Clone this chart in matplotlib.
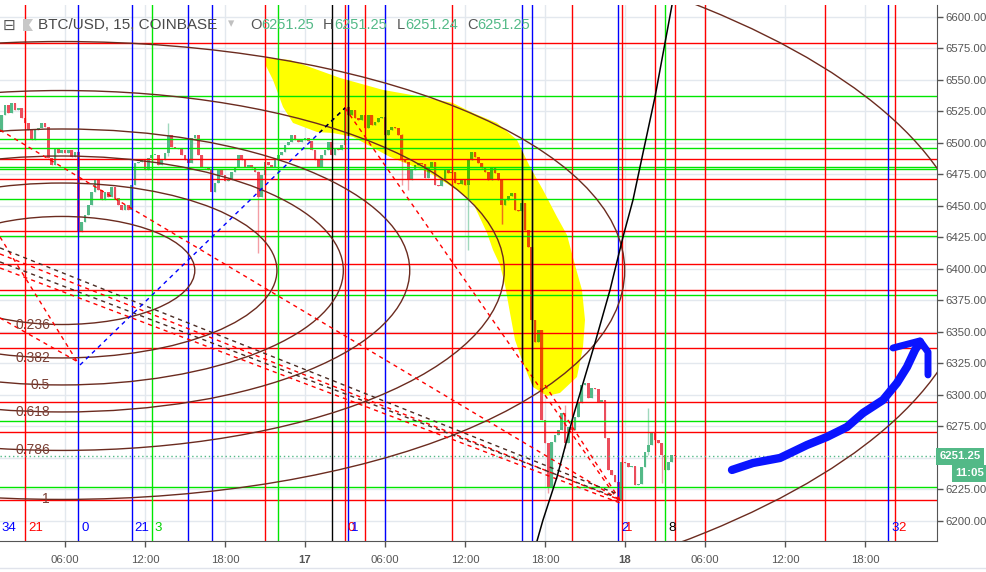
import numpy as np
import matplotlib.pyplot as plt
import matplotlib.transforms as mtransforms
from matplotlib.patches import Polygon, Ellipse
from matplotlib.lines import Line2D

plt.rcParams['font.family'] = ['Liberation Sans', 'DejaVu Sans']

# farben
c_up = '#53b987'
c_dn = '#eb4d5c'
c_up_y = '#53b900'     # unter dem gelben marker (multiply)
c_dn_y = '#eb4d00'
brown = '#6b2b1f'
red = '#ff0000'
green = '#00e600'
blue = '#0000ff'

# 15-min kerzen, zeit in stunden ab 16.09. 00:00
bar_k0 = 5
open0 = 6508.7
closes = [
    6522.2, 6530.2, 6523.8, 6531.7, 6526.2, 6527.8, 6519.9, 6515.9, 6510.3, 6502.4,
    6510.3, 6512.0, 6515.9, 6512.7, 6488.1, 6482.5, 6496.0, 6492.1, 6494.4, 6492.1,
    6494.4, 6488.9, 6492.9, 6429.4, 6437.3, 6442.9, 6450.8, 6461.1, 6470.6, 6462.7,
    6454.8, 6461.1, 6457.1, 6465.1, 6456.4, 6450.8, 6446.8, 6450.8, 6446.8, 6466.7,
    6484.1, 6484.9, 6486.5, 6478.6, 6488.1, 6490.5, 6490.5, 6482.5, 6486.5, 6492.1,
    6506.3, 6496.8, 6496.0, 6495.5, 6490.5, 6486.5, 6484.1, 6504.0, 6506.3, 6490.5,
    6481.0, 6480.2, 6478.6, 6461.1, 6468.3, 6478.6, 6474.6, 6469.9, 6470.6, 6477.0,
    6481.0, 6490.5, 6486.5, 6481.0, 6482.5, 6480.2, 6477.0, 6457.1, 6474.6, 6484.9,
    6482.5, 6481.0, 6486.5, 6490.5, 6492.9, 6498.4, 6500.8, 6506.3, 6502.4, 6500.8,
    6502.4, 6504.0, 6501.6, 6494.4, 6486.5, 6481.0, 6490.5, 6494.4, 6500.8, 6490.5,
    6496.0, 6494.4, 6498.4, 6528.6, 6522.2, 6526.2, 6519.9, 6518.3, 6522.2, 6512.0,
    6522.2, 6514.3, 6516.7, 6519.9, 6520.7, 6506.3, 6510.3, 6512.7, 6512.0, 6506.3,
    6486.5, 6484.9, 6470.6, 6478.6, 6482.5, 6484.1, 6483.5, 6472.2, 6481.0, 6484.9,
    6466.7, 6466.2, 6470.6, 6478.6, 6476.2, 6476.8, 6468.3, 6467.8, 6470.6, 6466.7,
    6486.5, 6492.9, 6488.9, 6484.1, 6480.2, 6477.0, 6470.6, 6481.0, 6476.2, 6470.6,
    6450.8, 6454.8, 6457.9, 6460.3, 6446.8, 6446.0, 6452.4, 6431.0, 6417.5, 6359.5,
    6342.0, 6351.6, 6280.2, 6261.9, 6226.2, 6262.7, 6268.3, 6272.2, 6285.7, 6261.9,
    6274.6, 6272.2, 6282.5, 6293.7, 6307.9, 6309.5, 6297.6, 6305.5, 6304.8, 6294.4,
    6296.0, 6265.9, 6240.5, 6236.5, 6230.9, 6216.7, 6246.8, 6246.3, 6242.9, 6243.4,
    6228.6, 6229.2, 6242.9, 6254.8, 6260.3, 6269.8, 6264.3, 6261.9, 6252.4, 6240.5,
    6246.8, 6252.4, 6251.25]
# auffaellige dochte: kerzen-nr, hoch, tief
wick_k = [28, 55, 82, 125, 127, 145, 155, 169, 174, 190, 199, 203]
wick_hi = [6494, 6516, 6478, 6507, 6485, 6487, 6471, 6262, 6292, 6231, 6290, 6262]
wick_lo = [6427, 6490, 6412.7, 6466.7, 6462.7, 6415, 6436, 6222, 6258, 6209, 6252, 6230]

last_price = 6251.25

# horizontale linien
hl_red = [6579.4, 6487.3, 6471.4, 6430.2, 6404.0, 6383.3, 6349.2, 6337.3, 6294.4, 6270.6, 6216.7]
hl_green = [6537.3, 6503.2, 6496.0, 6481.0, 6479.4, 6455.6, 6426.2, 6379.4, 6279.4, 6227.0]

# vertikale linien (fib time zones)
vl_h = [3.0, 7.0, 11.0, 12.5, 15.25, 17.0, 21.0, 22.0, 26.0, 27.0, 27.25, 28.5, 30.0,
        35.0, 40.25, 41.0, 44.0, 47.5, 47.75, 50.25, 51.0, 51.75, 54.0, 63.0, 67.75, 68.25]
vl_c = ['r', 'b', 'b', 'g', 'b', 'b', 'r', 'g', 'k', 'r', 'b', 'r', 'b',
        'r', 'b', 'b', 'r', 'b', 'r', 'r', 'g', 'r', 'r', 'r', 'b', 'r']
ft_labels = ['34', '21', '0', '21', '3', '0', '1', '2', '1', '8', '3', '2']
ft_h = [1.27, 3.22, 7.22, 11.22, 12.72, 27.22, 27.47, 47.72, 47.97, 51.22, 67.97, 68.47]
ft_c = ['b', 'r', 'b', 'b', 'g', 'r', 'b', 'b', 'r', 'k', 'b', 'r']

# fib circles
fc_center = (5.775, 6398.8)
fc_a = 42.2      # stunden
fc_b = 181.7     # preis
fc_levels = [0.236, 0.382, 0.5, 0.618, 0.786, 1.0, 1.618]
fc_labels = ['0.236', '0.382', '0.5', '0.618', '0.786', '1', '']

# gestrichelte linien: h0, p0, h1, p1, farbe
dashed = [
    (1.125, 6510.3, 47.625, 6216.7, red),
    (27.0, 6527.8, 47.625, 6214.3, red),
    (42.0, 6307.9, 47.625, 6216.7, red),
    (1.125, 6425.4, 6.975, 6325.4, red),
    (1.125, 6361.1, 6.975, 6326.2, red),
    (1.125, 6416.7, 47.25, 6222.1, '#4a2a22'),
    (1.125, 6411.9, 47.625, 6216.7, red),
    (1.125, 6405.6, 47.25, 6219.0, '#4a2a22'),
    (1.125, 6400.8, 47.625, 6214.3, red),
]
fib_line = (7.125, 6323.8, 27.0, 6527.8)

# schwarze kurve
bc_h = [41.4, 41.85, 42.9, 44.1, 45.75, 46.875, 47.85, 48.6, 49.35, 50.25, 51.0, 51.525]
bc_p = [6184.1, 6200.8, 6234.9, 6282.5, 6341.3, 6383.3, 6425.4, 6454.8, 6492.1, 6536.5, 6579.4, 6609.5]

# gelber marker
yel_h = [21.0, 22.875, 24.975, 26.625, 29.85, 32.85, 35.1, 36.6, 38.4, 39.9, 40.875, 41.85,
         42.9, 43.65, 44.25, 44.775, 45.0, 44.85, 44.4, 43.125, 42.15, 41.1, 40.35, 39.75,
         39.375, 39.0, 38.625, 38.1, 37.65, 36.6, 35.4, 33.375, 30.375, 27.6, 26.1, 24.9,
         23.1, 22.35, 21.6, 21.075]
yel_p = [6567.5, 6565.9, 6557.9, 6551.6, 6542.1, 6536.5, 6531.7, 6523.8, 6515.9, 6502.4,
         6481.0, 6462.7, 6441.3, 6427.0, 6403.2, 6383.3, 6359.5, 6338.1, 6314.3, 6301.6,
         6299.2, 6306.3, 6325.4, 6343.7, 6365.1, 6387.3, 6403.2, 6415.1, 6428.6, 6452.4,
         6462.7, 6476.2, 6488.9, 6504.8, 6507.9, 6508.7, 6515.9, 6528.6, 6550.0, 6561.1]

# blauer pfeil (freihand)
arr_h = [56.025, 57.6, 59.625, 61.65, 63.15, 64.65, 65.85, 67.35, 68.4, 69.15, 69.75, 70.125]
arr_p = [6240.5, 6246.0, 6250.0, 6260.3, 6266.7, 6274.6, 6285.7, 6296.0, 6309.5, 6322.2, 6335.7, 6342.1]
head_h = [68.1, 70.125, 70.725, 70.725]
head_p = [6337.3, 6342.9, 6334.1, 6315.9]

xt = [6, 12, 18, 24, 30, 36, 42, 48, 54, 60, 66]
xt_lab = ['06:00', '12:00', '18:00', '17', '06:00', '12:00', '18:00', '18', '06:00', '12:00', '18:00']

cmap = {'r': red, 'g': green, 'b': blue, 'k': 'black'}

#%%
fig = plt.figure(figsize=(9.87, 5.72), dpi=100)
ax = fig.add_axes([0, 31/572, 937/987, 536/572])
ax.set_xlim(1.125, 71.4)
ax.set_ylim(6184.1, 6609.5)

ax.grid(True, color='#e3e8ee', lw=1)
ax.set_axisbelow(True)

yellow = Polygon(np.column_stack([yel_h, yel_p]), closed=True, fc='#ffff00', ec='none', zorder=1.5)
ax.add_patch(yellow)

# kerzen
k = np.arange(bar_k0, bar_k0 + len(closes))
h = k * 0.25
cl = np.array(closes)
op = np.concatenate([[open0], cl[:-1]])
hi = np.maximum(op, cl)
lo = np.minimum(op, cl)
for kk, whi, wlo in zip(wick_k, wick_hi, wick_lo):
    i = kk - bar_k0
    hi[i] = max(hi[i], whi)
    lo[i] = min(lo[i], wlo)
up = cl >= op


def draw_candles(col_up, col_dn, z, clip=None):
    cols = np.where(up, col_up, col_dn)
    w = ax.vlines(h, lo, hi, colors=cols, lw=1, alpha=0.55, zorder=z)
    bars = ax.bar(h, np.maximum(np.abs(cl - op), 0.7), bottom=np.minimum(op, cl),
                  width=0.21, color=cols, lw=0, zorder=z + 0.05)
    if clip is not None:
        w.set_clip_path(clip)
        for b in bars:
            b.set_clip_path(clip)


draw_candles(c_up, c_dn, 2)
draw_candles(c_up_y, c_dn_y, 2.2, clip=yellow)

# linien
for p in hl_red:
    ax.axhline(p, color=red, lw=1, zorder=3)
for p in hl_green:
    ax.axhline(p, color=green, lw=1, zorder=3)
for x, c in zip(vl_h, vl_c):
    ax.axvline(x, color=cmap[c], lw=1, zorder=3)
    if c == 'b':
        ax.axvline(x, color='black', lw=1, zorder=3.1).set_clip_path(yellow)

ax.axhline(last_price, color='#53b987', lw=1, ls=(0, (1, 2)), zorder=3)

for r, lab in zip(fc_levels, fc_labels):
    ax.add_patch(Ellipse(fc_center, 2 * fc_a * r, 2 * fc_b * r, fill=False,
                         ec=brown, lw=1.0, zorder=3))
    if lab:
        ax.text(4.875, fc_center[1] - fc_b * r, lab, ha='right', va='center',
                fontsize=10, color='#7a4035', zorder=3.5)

for h0, p0, h1, p1, c in dashed:
    ax.plot([h0, h1], [p0, p1], color=c, lw=1, ls=(0, (3, 3)), zorder=3)
ax.plot(fib_line[::2], fib_line[1::2], color=blue, lw=1, ls=(0, (3, 3)), zorder=3)
ax.plot(fib_line[::2], fib_line[1::2], color='black', lw=1, ls=(0, (3, 3)),
        zorder=3.1)[0].set_clip_path(yellow)

ax.plot(bc_h, bc_p, color='black', lw=1.1, zorder=3)

ax.plot(arr_h, arr_p, color='#0a14ff', lw=6, solid_capstyle='round', solid_joinstyle='round', zorder=4)
ax.plot(head_h, head_p, color='#0a14ff', lw=5, solid_capstyle='round', solid_joinstyle='round', zorder=4)

trans = mtransforms.blended_transform_factory(ax.transData, ax.transAxes)
for x, lab, c in zip(ft_h, ft_labels, ft_c):
    ax.text(x, 0.024, lab, transform=trans, ha='left', va='center', fontsize=9.5,
            color=cmap[c] if c != 'g' else '#00d000', zorder=5)

# achsen
for s in ['left', 'top']:
    ax.spines[s].set_visible(False)
for s in ['right', 'bottom']:
    ax.spines[s].set_color('#555555')
ax.yaxis.tick_right()
yt = np.arange(6200, 6601, 25)
ax.set_yticks(yt)
ax.set_yticklabels(['' if v == 6250 else '%.2f' % v for v in yt])
ax.set_xticks(xt)
ax.set_xticklabels(xt_lab)
for t in ax.get_xticklabels():
    if t.get_text() in ('17', '18'):
        t.set_fontweight('bold')
ax.tick_params(axis='both', colors='#555555', labelsize=8.2, length=4, width=1)
ax.tick_params(axis='x', pad=6)
ax.tick_params(axis='y', pad=2)

tr2 = mtransforms.blended_transform_factory(ax.transAxes, ax.transData)
ax.text(1.003, last_price, '6251.25', transform=tr2, ha='left', va='center', fontsize=8.2,
        color='white', fontweight='bold',
        bbox=dict(boxstyle='square,pad=0.3', fc='#53b987', ec='none'), clip_on=False)
ax.text(984 / 937, last_price - 13.5, '11:05', transform=tr2, ha='right', va='center', fontsize=8.2,
        color='white', fontweight='bold',
        bbox=dict(boxstyle='square,pad=0.3', fc='#53b987', ec='none'), clip_on=False)

# kopfzeile
W, H = 987, 572
fig.text(3 / W, 1 - 25 / H, '⊟', fontsize=11, color='#555555', va='center', family='DejaVu Sans')
fig.patches.append(Polygon([[23 / W, 1 - 19 / H], [33 / W, 1 - 19 / H], [29 / W, 1 - 25 / H],
                            [33 / W, 1 - 31 / H], [23 / W, 1 - 31 / H]], closed=True,
                           fc='#c8c8c8', ec='none', transform=fig.transFigure))
fig.text(38 / W, 1 - 25 / H, 'BTC/USD, 15, COINBASE', fontsize=11, color='#4a4a4a', va='center')
fig.text(228 / W, 1 - 24 / H, '▾', fontsize=9, color='#c0c0c0', va='center', family='DejaVu Sans')
hdr = [('O', 250, '6251.25', 261), ('H', 323, '6251.25', 334),
       ('L', 397, '6251.24', 405), ('C', 467, '6251.25', 477)]
for lt, lx, val, vx in hdr:
    fig.text(lx / W, 1 - 25 / H, lt, fontsize=10.5, color='#555555', va='center')
    fig.text(vx / W, 1 - 25 / H, val, fontsize=10.5, color='#53b987', va='center')

fig.add_artist(Line2D([0, 1], [1 - 568 / H] * 2, color='#e0e3eb', lw=1))

fig.savefig('out.png', dpi=100)
